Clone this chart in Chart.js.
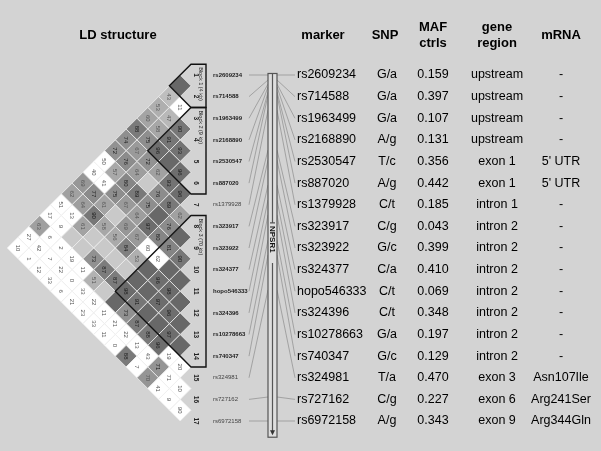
<!DOCTYPE html>
<html>
<head>
<meta charset="utf-8">
<script src="https://cdn.jsdelivr.net/npm/chart.js@4.4.1/dist/chart.umd.min.js"></script>
<style>
  html, body { margin: 0; padding: 0; background: #d3d3d3; }
</style>
</head>
<body>
<canvas id="ld" width="601" height="451"></canvas>
<script>
// table columns
const markers = ['rs2609234', 'rs714588', 'rs1963499', 'rs2168890', 'rs2530547', 'rs887020', 'rs1379928',
  'rs323917', 'rs323922', 'rs324377', 'hopo546333', 'rs324396', 'rs10278663', 'rs740347',
  'rs324981', 'rs727162', 'rs6972158'];
const snp = ['G/a', 'G/a', 'G/a', 'A/g', 'T/c', 'A/g', 'C/t', 'C/g', 'G/c', 'C/a', 'C/t', 'C/t', 'G/a', 'G/c', 'T/a', 'C/g', 'A/g'];
const maf = ['0.159', '0.397', '0.107', '0.131', '0.356', '0.442', '0.185', '0.043', '0.399', '0.410', '0.069',
  '0.348', '0.197', '0.129', '0.470', '0.227', '0.343'];
const region = ['upstream', 'upstream', 'upstream', 'upstream', 'exon 1', 'exon 1', 'intron 1', 'intron 2',
  'intron 2', 'intron 2', 'intron 2', 'intron 2', 'intron 2', 'intron 2', 'exon 3', 'exon 6', 'exon 9'];
const mrna = ['-', '-', '-', '-', "5' UTR", "5' UTR", '-', '-', '-', '-', '-', '-', '-', '-',
  'Asn107Ile', 'Arg241Ser', 'Arg344Gln'];

// haplotype blocks: first marker, last marker, label
const blocks = [[1, 2, 'Block 1 (4 kb)'], [3, 6, 'Block 2 (9 kb)'], [8, 14, 'Block 3 (70 kb)']];

// where each marker sits along the NPSR1 bar (in row units)
const genePos = [1.0, 1.23, 1.42, 1.55, 1.79, 1.92, 2.62, 4.47, 4.93, 6.09, 6.78, 7.47, 8.63, 9.32, 10.94, 15.89, 17.0];

// D' x 100 for marker i against markers i+1..17 (100 = no number shown)
const dprime = [
  [100, 43, 53, 60, 88, 74, 72, 50, 40, 69, 62, 51, 17, 63, 27, 10],
  [11, 47, 58, 75, 67, 76, 57, 41, 77, 64, 13, 9, 6, 42, 1],
  [90, 91, 96, 72, 64, 80, 75, 61, 90, 61, 100, 2, 7, 12],
  [93, 100, 62, 100, 89, 67, 100, 58, 100, 100, 19, 22, 33],
  [96, 93, 76, 75, 64, 69, 56, 100, 73, 11, 0, 6],
  [96, 89, 100, 97, 67, 84, 100, 87, 51, 33, 21],
  [62, 76, 80, 60, 53, 100, 87, 100, 22, 23],
  [100, 81, 62, 100, 100, 98, 100, 11, 33],
  [90, 100, 96, 100, 91, 73, 21, 11],
  [100, 98, 97, 100, 87, 22, 0],
  [100, 96, 100, 88, 13, 88],
  [100, 97, 96, 43, 7],
  [100, 19, 71, 70],
  [20, 71, 41],
  [10, 9],
  [90]
];
// 1 = LOD >= 2, 0 = weak evidence
const strong = [
  [1, 1, 1, 1, 1, 1, 1, 0, 0, 1, 1, 0, 0, 1, 0, 0],
  [0, 1, 1, 1, 1, 1, 1, 0, 1, 1, 0, 0, 0, 0, 0],
  [1, 1, 1, 1, 1, 1, 1, 1, 1, 1, 0, 0, 0, 0],
  [1, 1, 1, 0, 1, 1, 0, 1, 0, 0, 0, 0, 0],
  [1, 1, 1, 1, 1, 1, 1, 0, 1, 0, 0, 0],
  [1, 1, 1, 1, 1, 1, 0, 1, 1, 0, 0],
  [1, 1, 1, 0, 1, 0, 1, 0, 0, 0],
  [1, 1, 0, 1, 1, 1, 1, 0, 0],
  [1, 1, 1, 1, 1, 1, 0, 0],
  [1, 1, 1, 1, 1, 0, 0],
  [1, 1, 1, 1, 0, 1],
  [1, 1, 1, 0, 0],
  [1, 0, 1, 1],
  [0, 0, 0],
  [0, 0],
  [0]
];

const cells = [];
for (let i = 0; i < dprime.length; i++) {
  for (let k = 0; k < dprime[i].length; k++) {
    const j = i + 1 + k;
    cells.push({ x: j - i, y: (i + j) / 2 + 1, v: dprime[i][k], s: strong[i][k] });
  }
}

function cellColor(c) {
  if (!c.s) return c.v >= 100 ? '#c9c9c9' : '#ffffff';
  const g = Math.round(104 + 150 * (1 - c.v / 100));
  return `rgb(${g},${g},${g})`;
}

const FONT = '"Liberation Sans", Arial, sans-serif';

const ldText = {
  id: 'ldText',
  afterDatasetsDraw(chart) {
    const ctx = chart.ctx;
    const xs = chart.scales.x, ys = chart.scales.y;
    const xR = xs.getPixelForValue(0);
    const h = xs.getPixelForValue(0) - xs.getPixelForValue(1);
    const rowY = r => ys.getPixelForValue(r);
    const boxR = xR + 15;

    ctx.save();
    // numbers in the diamonds
    ctx.textAlign = 'center';
    ctx.textBaseline = 'middle';
    ctx.font = '6px ' + FONT;
    chart.getDatasetMeta(0).data.forEach((pt, n) => {
      const c = cells[n];
      if (c.v >= 100) return;
      ctx.save();
      ctx.translate(pt.x, pt.y);
      ctx.rotate(Math.PI / 2);
      ctx.fillStyle = c.s && c.v > 70 ? '#1a1a1a' : '#555';
      ctx.fillText(String(c.v), 0, 0.5);
      ctx.restore();
    });

    // block outlines
    ctx.strokeStyle = '#111';
    ctx.lineWidth = 1.4;
    blocks.forEach(([a, b, label]) => {
      const top = rowY(a) - h, bot = rowY(b) + h;
      ctx.beginPath();
      ctx.moveTo(boxR, top);
      ctx.lineTo(xR, top);
      ctx.lineTo(xR - (b - a + 1) * h, (rowY(a) + rowY(b)) / 2);
      ctx.lineTo(xR, bot);
      ctx.lineTo(boxR, bot);
      ctx.closePath();
      ctx.stroke();
      ctx.save();
      ctx.translate(xR + 10, top + 3);
      ctx.rotate(Math.PI / 2);
      ctx.fillStyle = '#222';
      ctx.font = '5.5px ' + FONT;
      ctx.textAlign = 'left';
      ctx.fillText(label, 0, 0);
      ctx.restore();
    });

    // row numbers and small marker labels
    markers.forEach((m, k) => {
      const y = rowY(k + 1);
      const inBlock = blocks.some(([a, b]) => k + 1 >= a && k + 1 <= b);
      ctx.save();
      ctx.translate(xR + 5, y);
      ctx.rotate(Math.PI / 2);
      ctx.font = 'bold 6.5px ' + FONT;
      ctx.fillStyle = '#222';
      ctx.textAlign = 'center';
      ctx.fillText(String(k + 1), 0, 0);
      ctx.restore();
      ctx.font = (inBlock ? 'bold ' : '') + '6px ' + FONT;
      ctx.fillStyle = inBlock ? '#222' : '#444';
      ctx.textAlign = 'left';
      ctx.fillText(m, xR + 22, y);
    });

    // NPSR1 bar
    const barL = 268, barR = 277, barMid = (barL + barR) / 2;
    const barTop = rowY(0.93), barBot = rowY(17.75);
    ctx.strokeStyle = '#8c8c8c';
    ctx.lineWidth = 0.7;
    genePos.forEach((g, k) => {
      const y = rowY(k + 1), gy = rowY(g);
      ctx.beginPath();
      ctx.moveTo(xR + 58, y);
      ctx.lineTo(barL, gy);
      ctx.moveTo(barR, gy);
      ctx.lineTo(295, y);
      ctx.stroke();
    });
    ctx.fillStyle = '#dedede';
    ctx.fillRect(barL, barTop, barR - barL, barBot - barTop);
    ctx.strokeStyle = '#555';
    ctx.lineWidth = 1.2;
    ctx.strokeRect(barL, barTop, barR - barL, barBot - barTop);
    const labTop = rowY(7.98), labBot = rowY(9.6);
    ctx.beginPath();
    ctx.moveTo(barMid, barTop);
    ctx.lineTo(barMid, labTop - 3);
    ctx.moveTo(barMid - 2.5, labTop - 3);
    ctx.lineTo(barMid + 2.5, labTop - 3);
    ctx.moveTo(barMid, labBot + 2);
    ctx.lineTo(barMid, barBot - 6);
    ctx.stroke();
    ctx.fillStyle = '#333';
    ctx.beginPath();
    ctx.moveTo(barMid - 2.5, barBot - 7);
    ctx.lineTo(barMid + 2.5, barBot - 7);
    ctx.lineTo(barMid, barBot - 2);
    ctx.closePath();
    ctx.fill();
    ctx.save();
    ctx.translate(barMid, labTop);
    ctx.rotate(Math.PI / 2);
    ctx.font = 'bold 8px ' + FONT;
    ctx.fillStyle = '#111';
    ctx.textAlign = 'left';
    ctx.textBaseline = 'middle';
    ctx.fillText('NPSR1', 0, 0.5);
    ctx.restore();

    // table
    ctx.fillStyle = '#000';
    ctx.font = '12.5px ' + FONT;
    ctx.textBaseline = 'middle';
    markers.forEach((m, k) => {
      const y = rowY(k + 1);
      ctx.textAlign = 'left';
      ctx.fillText(m, 297, y);
      ctx.textAlign = 'center';
      ctx.fillText(snp[k], 387, y);
      ctx.fillText(maf[k], 433, y);
      ctx.fillText(region[k], 497, y);
      ctx.fillText(mrna[k], 561, y);
    });

    // headers
    ctx.font = 'bold 13px ' + FONT;
    ctx.textAlign = 'center';
    ctx.fillText('LD structure', 118, 35);
    ctx.fillText('marker', 323, 35);
    ctx.fillText('SNP', 385, 35);
    ctx.fillText('MAF', 433, 27);
    ctx.fillText('ctrls', 433, 43);
    ctx.fillText('gene', 497, 27);
    ctx.fillText('region', 497, 43);
    ctx.fillText('mRNA', 561, 35);
    ctx.restore();
  }
};

new Chart(document.getElementById('ld'), {
  type: 'scatter',
  data: {
    datasets: [{
      data: cells,
      pointStyle: 'rectRot',
      pointRadius: ctx => {
        const xs = ctx.chart.scales.x;
        return xs.getPixelForValue(0) - xs.getPixelForValue(1);
      },
      pointHoverRadius: ctx => {
        const xs = ctx.chart.scales.x;
        return xs.getPixelForValue(0) - xs.getPixelForValue(1);
      },
      backgroundColor: ctx => cellColor(ctx.raw),
      borderColor: '#eeeeee',
      borderWidth: 0.8
    }]
  },
  options: {
    responsive: false,
    animation: false,
    events: [],
    layout: { padding: 0 },
    plugins: { legend: { display: false }, tooltip: { enabled: false } },
    scales: {
      x: { type: 'linear', display: false, reverse: true, min: 17.665 - 601 / 10.8125, max: 17.665 },
      y: { type: 'linear', display: false, reverse: true, min: 1 - 75 / 21.625, max: 1 - 75 / 21.625 + 451 / 21.625 }
    }
  },
  plugins: [ldText]
});
</script>
</body>
</html>
